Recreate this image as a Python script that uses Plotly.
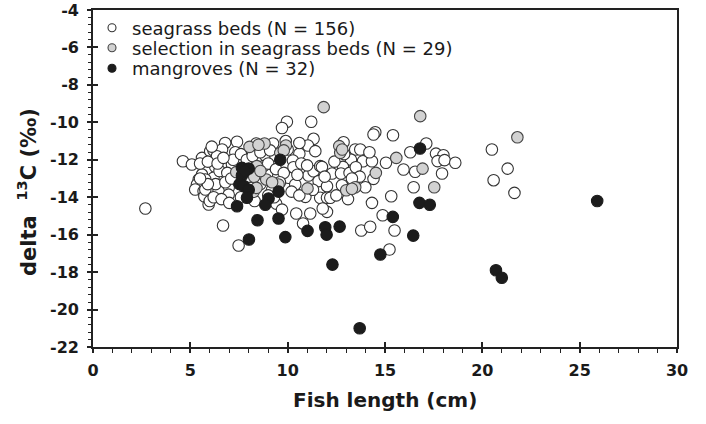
import plotly.graph_objects as go

# ---------------- data ----------------
seagrass_x = [2.69, 4.62, 5.08, 5.6, 6.02, 5.85, 5.6, 5.43, 5.34, 5.25, 5.68, 5.72, 5.94,
              9.96, 9.71, 11.21, 6.79, 7.4, 6.19, 6.63, 7.31, 8.39, 9.25, 8.85, 9.36, 10.0, 10.6,
              10.27, 11.33, 11.04, 11.42, 6.37, 6.28, 7.14, 6.71, 6.19, 5.77, 6.97, 6.45, 5.77,
              6.0, 6.97, 8.94, 10.05, 10.39, 11.07, 11.33, 11.67, 11.59, 12.02, 10.91, 11.67,
              12.02, 9.41, 9.71, 10.44, 11.16, 10.79, 6.68, 7.48, 8.76,
              14.5, 14.41, 15.41, 12.87, 13.47, 13.73, 17.12, 16.3, 17.62, 18.0, 17.7, 18.06,
              18.61, 13.25, 13.87, 14.33, 15.05, 11.76, 12.84, 12.28, 12.74, 13.18, 14.41, 15.95,
              16.55, 17.93, 12.79, 13.99, 12.19, 16.47, 15.32, 14.33, 12.02, 14.88, 13.78, 14.24,
              15.49, 15.23,
              20.49, 21.3, 20.58, 21.65,
              5.5, 5.9, 6.5, 6.9, 6.3, 6.8, 7.1, 5.9, 6.2, 6.6, 7.2, 7.6, 7.9, 8.2, 8.6, 9.0,
              9.4, 9.8, 10.3, 10.7, 10.2, 10.6, 11.3, 10.6, 9.1, 8.6, 9.2, 12.4, 12.9, 13.5,
              13.7, 12.5, 13.1, 11.8, 7.7, 8.1, 14.2, 7.6, 9.3, 9.6, 9.9, 7.0, 8.3, 13.3,
              9.0, 6.1, 5.5, 6.4, 8.0, 10.5, 11.0, 11.9, 6.7]
seagrass_y = [-14.6, -12.08, -12.25, -11.9, -11.54, -12.52, -12.79, -13.05, -13.32, -13.59, -13.68, -13.95, -14.39,
              -9.97, -10.3, -9.97, -11.1, -11.04, -11.5, -11.45, -11.6, -11.13, -11.13, -11.77, -11.77, -11.45, -11.68,
              -12.04, -10.88, -11.24, -11.54, -11.81, -12.38, -12.25, -12.96, -12.96, -13.05, -13.5, -13.68, -13.59,
              -14.2, -13.86, -12.79, -12.96, -13.32, -12.84, -12.61, -12.34, -13.14, -13.41, -13.98, -14.03,
              -14.03, -14.34, -14.66, -14.87, -14.87, -15.4, -15.51, -16.58, -12.34,
              -10.53, -10.65, -10.69, -11.06, -11.45, -11.45, -11.13, -11.6, -11.67, -11.76, -12.07, -12.02,
              -12.16, -11.99, -12.08, -12.08, -12.16, -12.38, -12.38, -12.73, -12.73, -12.7, -13.02, -12.52,
              -12.64, -12.73, -13.36, -13.47, -14.03, -13.47, -13.95, -14.3, -14.78, -14.96, -15.78, -15.58,
              -15.78, -16.79,
              -11.45, -12.47, -13.09, -13.77,
              -12.2, -12.1, -12.6, -12.7, -13.3, -13.2, -13.0, -13.3, -14.0, -14.1, -12.0, -11.7, -12.0, -11.8, -11.6, -12.2,
              -12.5, -12.7, -12.4, -12.2, -13.7, -13.9, -13.6, -11.1, -11.5, -13.3, -13.6, -12.1, -11.7, -12.4,
              -12.9, -13.9, -14.1, -14.6, -13.0, -13.5, -11.6, -14.0, -14.0, -13.2, -11.0, -14.3, -14.2, -13.0,
              -13.9, -11.3, -13.0, -12.2, -12.9, -12.8, -12.3, -12.9, -11.9]

selection_x = [11.85, 8.04, 8.81, 9.91, 9.62, 8.42, 7.36, 8.28, 8.9, 9.53, 8.25, 11.02,
               16.81, 12.65, 12.7, 15.58, 16.93, 14.53, 13.47, 13.01, 17.53, 21.8,
               8.5, 9.8, 8.6, 9.2, 12.8, 13.3, 8.4]
selection_y = [-9.19, -11.31, -11.13, -11.24, -11.63, -12.34, -12.66, -12.91, -13.05, -13.32, -13.71, -13.53,
               -9.67, -11.27, -11.63, -11.9, -12.47, -12.7, -13.47, -13.63, -13.47, -10.8,
               -11.2, -11.5, -12.6, -13.2, -11.45, -13.55, -13.5]

mangrove_x = [9.62, 7.65, 8.0, 7.65, 7.53, 7.74, 8.0, 7.91, 9.02, 8.85, 9.53, 7.4, 8.45, 9.53,
              8.01, 9.88, 11.02, 11.93, 12.0, 12.3, 12.67, 13.7, 14.76, 15.4, 16.45, 16.77, 17.3,
              16.8, 20.7, 21.0, 25.9, 7.8]
mangrove_y = [-12.0, -12.43, -12.47, -12.84, -13.3, -13.4, -13.6, -14.03, -14.07, -14.4, -13.7, -14.48, -15.23, -15.14,
              -16.26, -16.13, -15.8, -15.6, -16.0, -17.6, -15.57, -21.0, -17.06, -15.05, -16.05, -14.3, -14.4,
              -11.4, -17.9, -18.3, -14.2, -12.6]

legend_names = ["seagrass beds (N = 156)", "selection in seagrass beds (N = 29)", "mangroves (N = 32)"]
x_title = "Fish length (cm)"
y_title = "delta\u00a0\u00a0<sup>13</sup>C (‰)"
x_ticks = [0, 5, 10, 15, 20, 25, 30]
x_tick_labels = ["0", "5", "10", "15", "20", "25", "30"]
y_ticks = [-4, -6, -8, -10, -12, -14, -16, -18, -20, -22]
y_tick_labels = ["-4", "-6", "-8", "-10", "-12", "-14", "-16", "-18", "-20", "-22"]

# ---------------- layout geometry (screen px) ----------------
FONT = "DejaVu Sans"
AX = "#222222"
TXT = "#1a1a1a"
W, H = 706, 424
ML, MT = 93, 10
MR = W - 677
MB = H - 347
PW, PH = W - ML - MR, H - MT - MB


def px_x(sx):
    return (sx - ML) / PW


def px_y(sy):
    return 1 - (sy - MT) / PH


styles = [
    dict(color="white", line=dict(color="#333333", width=1.1)),
    dict(color="#d2d2d2", line=dict(color="#444444", width=1.1)),
    dict(color="#1c1c1c", line=dict(color="#1c1c1c", width=1.1)),
]
series = [(seagrass_x, seagrass_y), (selection_x, selection_y), (mangrove_x, mangrove_y)]
legend_ids = ["legend", "legend2", "legend3"]
legend_rows_px = [28, 48, 68.5]

fig = go.Figure()
for (xs, ys), st in zip(series, styles):
    fig.add_trace(go.Scatter(x=xs, y=ys, mode="markers", showlegend=False,
                             marker=dict(symbol="circle", size=11.5, **st)))
for name, st, lid in zip(legend_names, styles, legend_ids):
    fig.add_trace(go.Scatter(x=[None], y=[None], mode="markers", name=name, legend=lid,
                             marker=dict(symbol="circle", size=8, **st)))
fig.add_trace(go.Scatter(x=[None], y=[None], xaxis="x2", yaxis="y2", showlegend=False, hoverinfo="skip"))

legend_common = dict(xanchor="left", yanchor="middle", bgcolor="rgba(0,0,0,0)",
                     font=dict(family=FONT, size=18, color=TXT), itemsizing="trace")
legends = {}
for lid, row in zip(legend_ids, legend_rows_px):
    legends[lid] = dict(x=px_x(92), y=px_y(row), **legend_common)

tickfont = dict(family=FONT, size=16, color=TXT, weight="bold")
fig.update_layout(
    width=W, height=H,
    margin=dict(l=ML, r=MR, t=MT, b=MB, autoexpand=False),
    paper_bgcolor="white", plot_bgcolor="white",
    showlegend=True,
    xaxis=dict(range=[0, 30], tickmode="array", tickvals=x_ticks, ticktext=x_tick_labels,
               ticks="outside", ticklen=4, tickwidth=1.5, tickcolor=AX, ticklabelstandoff=4,
               minor=dict(tickmode="linear", tick0=0, dtick=1, ticks="outside", ticklen=4,
                          tickwidth=1.2, tickcolor=AX),
               showline=True, linewidth=1.6, linecolor=AX, mirror=True, automargin=False,
               showgrid=False, zeroline=False, tickfont=tickfont, ticklabeloverflow="allow"),
    yaxis=dict(range=[-22, -4], tickmode="array", tickvals=y_ticks, ticktext=y_tick_labels,
               ticks="outside", ticklen=4, tickwidth=1.5, tickcolor=AX, ticklabelstandoff=5,
               minor=dict(tickmode="linear", tick0=-22, dtick=0.4, ticks="outside", ticklen=3,
                          tickwidth=1.2, tickcolor=AX),
               showline=True, linewidth=1.6, linecolor=AX, mirror=True, automargin=False,
               showgrid=False, zeroline=False, tickfont=tickfont, ticklabeloverflow="allow"),
    xaxis2=dict(overlaying="x", matches="x", anchor="y", side="bottom", range=[0, 30],
                tickmode="array", tickvals=x_ticks, ticks="inside", ticklen=5, tickwidth=1.5,
                tickcolor=AX, showticklabels=False, showline=False, showgrid=False, zeroline=False),
    yaxis2=dict(overlaying="y", matches="y", anchor="x", side="left", range=[-22, -4],
                tickmode="array", tickvals=y_ticks, ticks="inside", ticklen=5, tickwidth=1.5,
                tickcolor=AX, showticklabels=False, showline=False, showgrid=False, zeroline=False),
    annotations=[
        dict(text=x_title, xref="paper", yref="paper", x=0.5, y=px_y(400),
             xanchor="center", yanchor="middle", showarrow=False,
             font=dict(family=FONT, size=20, color=TXT, weight="bold")),
        dict(text=y_title, xref="paper", yref="paper", x=px_x(27), y=px_y(192),
             xanchor="center", yanchor="middle", textangle=-90, showarrow=False,
             font=dict(family=FONT, size=21, color=TXT, weight="bold")),
    ],
    **legends,
)

# remove the browser's default 8px page margin so the figure sits at the window origin
fig.write_html("out.html", config={"displayModeBar": False},
               post_script="document.body.style.margin='0';")
